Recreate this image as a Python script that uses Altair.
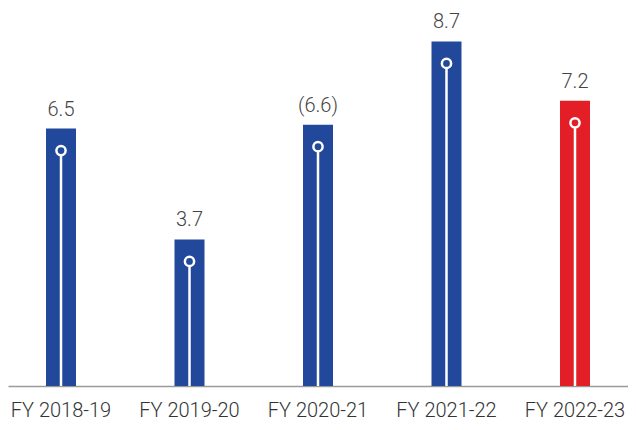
import altair as alt
import pandas as pd

years = ["FY 2018-19", "FY 2019-20", "FY 2020-21", "FY 2021-22", "FY 2022-23"]
values = [6.5, 3.7, 6.6, 8.7, 7.2]
labels = ["6.5", "3.7", "(6.6)", "8.7", "7.2"]
colors = ["#21489b", "#21489b", "#21489b", "#21489b", "#e31e26"]

df = pd.DataFrame({"year": years, "value": values, "label": labels, "color": colors})

x = alt.X("year:N", sort=years,
          scale=alt.Scale(paddingInner=0.3, paddingOuter=0.0625),
          axis=alt.Axis(title=None, labelAngle=0, ticks=False, labelPadding=30,
                        labelBaseline="alphabetic",
                        labelFontSize=20, labelFont="Roboto", labelFontWeight=300,
                        labelColor="#333333", domainColor="#9a9a9a", domainWidth=1.5))
y = alt.Y("value:Q", scale=alt.Scale(domain=[0, 9.545], nice=False, zero=True), axis=None)

base = alt.Chart(df).encode(x=x)

bars = base.mark_bar(size=30).encode(y=y, color=alt.Color("color:N", scale=None))
stems = base.mark_rule(color="white", strokeWidth=2.5, yOffset=27).encode(y=y, y2=alt.datum(0))
dots = base.mark_point(shape="circle", size=85, strokeWidth=2.5, stroke="white",
                       filled=False, opacity=1, yOffset=22).encode(
    y=y, fill=alt.Color("color:N", scale=None))
texts = base.mark_text(baseline="alphabetic", dy=-13, fontSize=20, font="Roboto",
                       fontWeight=300, color="#444444").encode(y=y, text="label:N")

chart = alt.layer(bars, stems, dots, texts).properties(
    width=620, height=378,
    autosize=alt.AutoSizeParams(type="none"),
    padding={"left": 0, "top": 0, "right": 0, "bottom": 36}
).configure_view(stroke=None)

chart.save("out.html", embed_options={"renderer": "svg", "actions": False})
